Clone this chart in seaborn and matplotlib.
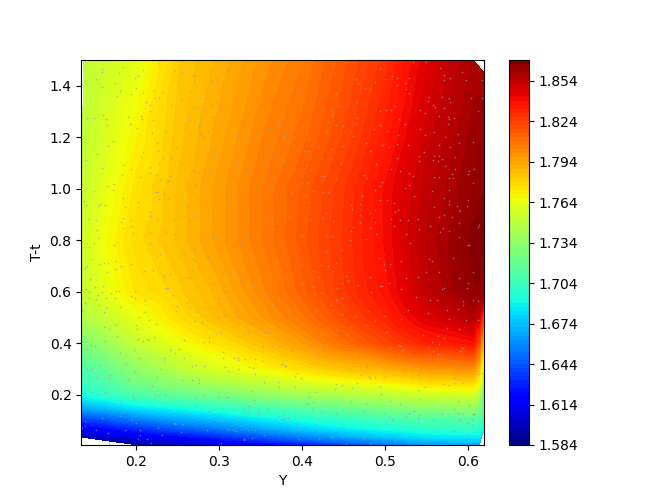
import numpy as np
import pandas as pd
import seaborn as sns
import matplotlib.pyplot as plt

# grid
y_cols = [0.134, 0.16, 0.2, 0.25, 0.3, 0.35, 0.4, 0.45, 0.5, 0.55, 0.606, 0.613, 0.619]
t_rows = [0.006, 0.036, 0.07, 0.1, 0.15, 0.2, 0.25, 0.3, 0.4, 0.5, 0.6, 0.8, 1.0, 1.2, 1.45, 1.5]
nan = float('nan')
z_rows = [
    [nan, nan, 1.590, 1.598, 1.606, 1.616, 1.628, 1.640, 1.652, 1.662, 1.666, 1.666, nan],
    [1.596, 1.602, 1.610, 1.620, 1.632, 1.643, 1.655, 1.666, 1.675, 1.683, 1.685, 1.685, nan],
    [1.615, 1.622, 1.632, 1.645, 1.655, 1.667, 1.678, 1.687, 1.694, 1.700, 1.702, 1.700, 1.690],
    [1.634, 1.640, 1.652, 1.663, 1.672, 1.683, 1.692, 1.698, 1.704, 1.708, 1.710, 1.708, 1.700],
    [1.668, 1.674, 1.684, 1.692, 1.700, 1.708, 1.714, 1.720, 1.727, 1.733, 1.735, 1.730, 1.715],
    [1.693, 1.700, 1.710, 1.718, 1.725, 1.733, 1.740, 1.745, 1.750, 1.755, 1.757, 1.745, 1.720],
    [1.703, 1.710, 1.724, 1.735, 1.745, 1.752, 1.760, 1.766, 1.771, 1.778, 1.780, 1.770, 1.735],
    [1.710, 1.718, 1.733, 1.748, 1.760, 1.768, 1.776, 1.784, 1.790, 1.797, 1.800, 1.785, 1.750],
    [1.727, 1.736, 1.752, 1.765, 1.775, 1.785, 1.797, 1.810, 1.822, 1.833, 1.838, 1.820, 1.780],
    [1.745, 1.752, 1.764, 1.776, 1.787, 1.797, 1.808, 1.821, 1.833, 1.846, 1.856, 1.850, 1.815],
    [1.752, 1.762, 1.774, 1.781, 1.790, 1.802, 1.814, 1.827, 1.838, 1.853, 1.866, 1.866, 1.860],
    [1.755, 1.766, 1.778, 1.786, 1.796, 1.806, 1.817, 1.828, 1.840, 1.855, 1.868, 1.869, 1.868],
    [1.752, 1.762, 1.775, 1.786, 1.796, 1.806, 1.816, 1.827, 1.840, 1.853, 1.864, 1.866, 1.866],
    [nan, 1.758, 1.770, 1.784, 1.793, 1.803, 1.811, 1.822, 1.835, 1.850, 1.862, 1.863, 1.863],
    [nan, 1.755, 1.763, 1.782, 1.790, 1.799, 1.807, 1.818, 1.830, 1.846, 1.859, 1.859, 1.859],
    [nan, 1.754, 1.762, 1.782, 1.789, 1.798, 1.806, 1.817, 1.829, 1.845, 1.858, nan, nan],
]
# left edge of the filled area, slightly inside the frame near the top
edge_y = [0.137, 0.137, 0.137]
edge_t = [1.5, 1.45, 1.2]
edge_z = [1.749, 1.749, 1.750]

tick_vals = [1.584, 1.614, 1.644, 1.674, 1.704, 1.734, 1.764, 1.794, 1.824, 1.854]

# sample points, upper left
pts_ul = [(.159,1.466),(.159,1.456),(.152,1.426),(.159,1.397),(.174,1.41),(.179,1.449),(.184,1.472),(.199,1.43),(.202,1.439),(.208,1.462),(.226,1.488),(.247,1.457),(.255,1.453),(.268,1.439),(.271,1.441),(.270,1.419),(.291,1.421),(.296,1.426),(.312,1.462),(.327,1.478),(.341,1.491),(.353,1.462),(.371,1.472),
(.181,1.382),(.177,1.363),(.194,1.367),(.200,1.391),(.208,1.371),(.220,1.379),(.232,1.375),(.223,1.352),(.228,1.352),(.212,1.336),(.216,1.326),(.216,1.301),(.242,1.328),(.254,1.344),(.264,1.379),(.277,1.352),(.269,1.316),(.283,1.305),(.290,1.328),(.296,1.336),(.302,1.34),(.301,1.313),
(.160,1.289),(.141,1.274),(.149,1.274),(.164,1.27),(.165,1.25),(.190,1.281),(.206,1.285),(.207,1.27),(.193,1.254),(.201,1.238),(.220,1.266),(.219,1.219),(.235,1.223),(.265,1.266),(.277,1.266),(.275,1.246),(.259,1.231),(.292,1.281),(.287,1.227),(.277,1.215),(.280,1.204),(.317,1.211),(.322,1.215),(.327,1.258),(.335,1.196),(.353,1.258),(.361,1.235),(.371,1.243),(.378,1.204),
(.172,1.188),(.166,1.165),(.153,1.137),(.139,1.114),(.225,1.18),(.226,1.149),(.208,1.145),(.206,1.126),(.248,1.164),(.232,1.122),(.242,1.122),(.228,1.102),(.185,1.094),(.159,1.082),(.194,1.078),(.217,1.086),(.255,1.102),(.294,1.153),(.294,1.122),(.323,1.114),(.322,1.086),(.331,1.172),(.358,1.153),(.354,1.106),(.368,1.129),(.372,1.098),
(.183,1.055),(.205,1.048),(.216,1.063),(.224,1.055),(.229,1.036),(.242,1.052),(.238,1.032),(.261,1.032),(.269,1.071),(.276,1.063),(.289,1.067),(.296,1.063),(.301,1.044),(.272,1.016),(.299,1.009),(.328,1.016),(.334,1.075),(.352,1.036),(.363,1.044),(.360,1.005),(.365,1.005),(.166,1.012),(.173,1.02),(.172,.997),(.220,1.016),(.149,.993),
(.224,.989),(.226,.989),(.234,.981),(.184,.965),(.238,.961),(.228,.961),(.202,.95),(.137,.954),(.140,.938),(.156,.942),(.162,.938),(.154,.934),(.187,.93),(.261,.934),(.275,.961),(.278,.938),(.287,.922),(.311,.955),(.314,.93),(.313,.915),(.323,.938),(.336,.927),(.349,.981),(.369,.962),(.293,.896),
(.143,.884),(.152,.88),(.184,.888),(.182,.872),(.194,.88),(.216,.911),(.217,.896),(.225,.884),(.246,.884),(.254,.892),(.259,.892),(.263,.88),(.269,.896),(.363,.884),(.194,.856),(.184,.848),(.153,.84),(.196,.829),(.216,.829),(.235,.833),(.247,.825),(.269,.852),(.278,.829),(.295,.837),(.294,.817),(.291,.809),(.299,.809),(.307,.798),(.317,.809),(.325,.794),(.334,.809),(.345,.806),(.355,.806),(.366,.845),(.372,.845),(.154,.809),(.149,.79),(.143,.775),(.173,.782),(.216,.79),(.27,.763)]
# upper right
pts_ur = [(.385,1.488),(.405,1.488),(.437,1.482),(.439,1.452),(.385,1.452),(.396,1.449),(.494,1.468),(.533,1.492),(.549,1.492),(.566,1.468),(.570,1.442),(.592,1.453),(.508,1.437),(.529,1.433),(.514,1.43),(.500,1.426),(.464,1.426),(.487,1.414),(.523,1.41),(.514,1.402),(.571,1.422),(.578,1.43),(.597,1.422),(.616,1.422),(.467,1.41),(.475,1.394),(.481,1.387),(.525,1.39),(.528,1.371),(.388,1.387),(.395,1.384),(.441,1.371),(.422,1.352),
(.552,1.359),(.568,1.359),(.577,1.355),(.603,1.355),(.616,1.352),(.551,1.34),(.557,1.328),(.560,1.32),(.571,1.316),(.578,1.336),(.611,1.301),(.455,1.328),(.464,1.336),(.443,1.324),(.436,1.305),(.436,1.289),(.493,1.301),(.501,1.305),(.507,1.305),(.512,1.324),(.542,1.305),(.548,1.297),(.564,1.285),(.575,1.281),(.583,1.277),(.577,1.27),(.575,1.254),
(.466,1.277),(.431,1.262),(.440,1.25),(.449,1.246),(.465,1.254),(.494,1.25),(.516,1.273),(.524,1.254),(.377,1.285),(.380,1.227),(.383,1.227),(.378,1.203),(.390,1.203),(.408,1.195),(.429,1.227),(.458,1.227),(.461,1.207),(.486,1.231),(.502,1.227),(.515,1.211),(.542,1.231),(.548,1.211),(.558,1.223),(.572,1.203),(.587,1.215),(.588,1.18),(.606,1.184),(.477,1.18),(.496,1.172),(.514,1.176),(.449,1.168),(.389,1.164),(.419,1.164),(.402,1.149),(.407,1.149),(.434,1.156),(.481,1.149),(.504,1.164),(.527,1.172),(.565,1.172),(.578,1.164),
(.547,1.145),(.540,1.129),(.540,1.11),(.559,1.129),(.564,1.129),(.557,1.114),(.563,1.11),(.568,1.118),(.584,1.125),(.514,1.121),(.424,1.118),(.435,1.118),(.411,1.121),(.379,1.106),(.404,1.094),(.447,1.102),(.489,1.098),(.572,1.09),(.584,1.078),(.607,1.078),(.601,1.071),(.599,1.059),(.507,1.078),(.518,1.071),(.529,1.063),(.411,1.075),(.533,1.051),(.559,1.047),(.564,1.047),(.580,1.059),(.577,1.043),(.581,1.043),(.422,1.051),(.426,1.051),(.441,1.039),(.474,1.055),(.478,1.043),(.605,1.024),(.400,1.024),(.496,1.028),
(.407,1.024),(.493,1.012),(.528,1.016),(.524,1.004),(.487,.997),(.576,.997),(.556,.993),(.413,.993),(.425,.989),(.431,.989),(.388,.989),(.404,.977),(.472,.973),(.535,.973),(.570,.965),(.494,.958),(.502,.958),(.577,.954),(.600,.958),(.577,.942),(.408,.95),(.459,.938),(.470,.942),(.510,.946),(.559,.93),(.586,.934),(.598,.934),(.460,.923),(.488,.919),(.482,.907),(.515,.919),(.512,.911),(.589,.919),(.590,.915),(.429,.907),(.470,.899),(.564,.891),(.570,.899),(.580,.891),(.384,.891),(.410,.88),(.424,.887),(.437,.875),(.469,.872),(.487,.872),(.507,.883),(.517,.88),(.527,.88),(.539,.883),(.589,.868),(.554,.856),(.569,.848),(.613,.86),(.611,.852),(.461,.852),(.481,.848),(.458,.837),(.489,.825),(.510,.856),(.540,.844),(.525,.825),(.566,.833),(.576,.837),(.400,.821),(.429,.821),(.436,.817),(.457,.802),(.477,.806),(.589,.813),(.530,.79),(.599,.782),(.601,.782),(.396,.767),(.447,.763)]
# lower left
pts_ll = [(.146,.729),(.141,.701),(.138,.693),(.155,.709),(.161,.713),(.166,.713),(.176,.721),(.182,.701),(.194,.709),(.165,.678),(.176,.689),(.209,.682),(.220,.686),(.225,.74),(.229,.748),(.252,.736),(.257,.752),(.267,.729),(.271,.721),(.287,.732),(.300,.732),(.314,.721),(.320,.752),(.326,.697),(.234,.662),(.241,.67),(.260,.654),(.264,.658),(.267,.682),(.305,.678),(.314,.67),(.323,.67),(.326,.662),(.357,.697),(.370,.713),(.144,.65),(.150,.619),(.160,.623),(.140,.611),(.143,.6),(.154,.588),(.159,.6),(.170,.596),(.176,.604),(.179,.604),(.194,.584),(.199,.604),(.236,.615),(.238,.615),(.244,.588),(.293,.635),(.307,.6),(.316,.604),(.319,.635),(.342,.623),(.330,.596),(.361,.592),(.143,.576),(.152,.572),(.164,.576),(.175,.576),(.199,.576),(.211,.569),(.138,.557),(.155,.549),(.164,.537),(.161,.522),(.180,.541),(.135,.529),(.249,.545),(.248,.526),(.261,.557),(.265,.541),(.273,.522),(.281,.537),(.292,.541),(.298,.557),(.298,.576),(.308,.572),(.307,.514),(.329,.522),(.340,.569),(.352,.526),(.372,.572),(.363,.553),(.211,.522),(.203,.502),(.298,.502),(.322,.502),(.215,.491),(.270,.487),(.279,.483),(.340,.483),(.224,.475),(.200,.471),(.176,.471),(.161,.463),(.167,.455),(.201,.455),(.357,.459),(.361,.452),(.370,.455),(.301,.444),(.296,.436),(.334,.444),(.329,.432),(.354,.444),(.177,.428),(.223,.424),(.288,.424),(.202,.416),(.208,.409),(.213,.416),(.215,.413),(.162,.409),(.257,.413),(.281,.405),(.288,.405),(.146,.393),(.150,.389),(.140,.377),(.353,.389),(.364,.389),(.372,.389),(.197,.374),(.241,.374),(.252,.377),(.247,.362),(.180,.362),(.304,.366),(.305,.342),(.203,.342),(.234,.342),(.234,.331),(.258,.342),(.318,.342),(.322,.342),(.322,.335),(.331,.338),(.343,.338),(.352,.331),(.188,.319),(.156,.315),(.267,.311),(.272,.315),(.282,.311),(.307,.307),(.336,.307),(.341,.303),(.376,.319),(.380,.311),(.141,.3),(.144,.296),(.147,.303),(.230,.3),(.311,.292),(.322,.3),(.199,.288),(.343,.28),(.152,.264),(.168,.276),(.167,.264),(.225,.268),(.190,.257),(.255,.257),(.267,.257),(.276,.257),(.276,.245),(.354,.249),(.371,.249),(.372,.229),(.219,.233),(.339,.214),(.147,.21),(.164,.21),(.154,.198),(.195,.194),(.197,.19),(.197,.182),(.223,.202),(.226,.198),(.223,.19),(.235,.198),(.272,.186),(.282,.198),(.298,.19),(.308,.186),(.311,.19),(.342,.179),(.177,.179),(.182,.179),(.141,.163),(.147,.171),(.168,.151),(.271,.159),(.304,.143),(.334,.155),(.328,.143),(.287,.136),(.358,.143),(.155,.139),(.159,.143),(.213,.132),(.185,.132),(.260,.124),(.348,.136),(.335,.132),(.181,.116),(.159,.108),(.195,.104),(.138,.097),(.200,.089),(.245,.089),(.247,.085),(.255,.085),(.296,.101),(.301,.105),(.322,.108),(.329,.108),(.347,.124),(.372,.116),(.378,.105),(.383,.108),(.135,.073),(.138,.077),(.152,.065),(.187,.062),(.205,.065),(.226,.073),(.285,.065),(.311,.069),(.317,.065),(.320,.058),(.326,.077),(.335,.065),(.343,.062),(.254,.054),(.166,.05),(.205,.042),(.231,.042),(.202,.03),(.213,.03),(.330,.03),(.330,.023),(.354,.042),(.339,.034),(.167,.011),(.218,.011),(.302,.011)]
# lower right
pts_lr = [(.429,.756),(.492,.732),(.519,.721),(.552,.729),(.556,.721),(.581,.732),(.498,.709),(.506,.709),(.499,.686),(.549,.678),(.565,.678),(.606,.678),(.400,.705),(.422,.705),(.440,.713),(.431,.701),(.437,.682),(.413,.682),(.420,.658),(.452,.662),(.379,.658),(.481,.658),(.525,.654),(.539,.658),(.588,.654),(.455,.643),(.448,.635),(.399,.635),(.413,.619),(.467,.627),(.493,.623),(.496,.623),(.504,.635),(.599,.635),(.519,.611),(.568,.611),(.571,.615),(.598,.615),(.442,.615),(.414,.592),(.423,.596),(.483,.6),(.537,.58),(.377,.569),(.440,.569),(.448,.576),(.554,.569),(.562,.569),(.593,.565),(.606,.569),(.612,.565),(.435,.549),(.594,.549),(.392,.534),(.383,.526),(.436,.529),(.480,.526),(.527,.529),(.574,.529),(.587,.534),(.416,.526),(.551,.518),(.448,.514),(.408,.506),(.464,.506),(.500,.506),(.519,.494),(.576,.494),(.597,.491),(.611,.491),(.487,.487),(.478,.471),(.459,.463),(.574,.459),(.589,.455),(.395,.452),(.412,.455),(.440,.452),(.502,.444),(.545,.432),(.454,.432),(.563,.428),(.571,.42),(.402,.424),(.389,.413),(.418,.416),(.556,.405),(.430,.397),(.463,.393),(.515,.393),(.517,.389),(.551,.385),(.565,.397),(.412,.385),(.423,.381),(.425,.374),(.506,.381),(.592,.381),(.388,.377),(.521,.374),(.557,.37),(.590,.37),(.419,.358),(.516,.358),(.563,.358),(.480,.346),(.554,.342),(.562,.342),(.577,.335),(.489,.323),(.478,.311),(.590,.319),(.376,.319),(.379,.311),(.599,.307),(.562,.307),(.559,.3),(.570,.288),(.394,.284),(.594,.284),(.611,.28),(.391,.272),(.398,.264),(.471,.276),(.480,.272),(.482,.264),(.487,.268),(.500,.268),(.539,.276),(.583,.264),(.616,.284),(.466,.245),(.440,.241),(.448,.237),(.493,.233),(.569,.241),(.577,.237),(.582,.245),(.594,.245),(.391,.229),(.439,.222),(.460,.225),(.548,.229),(.541,.218),(.416,.21),(.495,.202),(.408,.19),(.541,.182),(.405,.167),(.413,.171),(.458,.175),(.506,.175),(.587,.175),(.477,.163),(.517,.163),(.601,.159),(.412,.143),(.474,.139),(.534,.139),(.583,.143),(.391,.128),(.424,.132),(.440,.128),(.500,.128),(.528,.124),(.525,.116),(.541,.12),(.568,.124),(.587,.128),(.594,.124),(.605,.124),(.607,.124),(.378,.12),(.375,.105),(.378,.105),(.383,.108),(.419,.105),(.504,.116),(.508,.101),(.539,.108),(.557,.105),(.590,.101),(.604,.105),(.393,.085),(.447,.085),(.600,.089),(.604,.081),(.396,.062),(.467,.058),(.492,.05),(.582,.058),(.617,.054),(.600,.046),(.434,.038),(.499,.042),(.420,.03),(.396,.03),(.474,.034),(.511,.023),(.547,.03),(.453,.007),(.481,.011),(.583,.007)]

# long table for the surface
df = pd.DataFrame(z_rows, index=t_rows, columns=y_cols)
df = df.stack().rename_axis(['t', 'y']).reset_index(name='z')
df = pd.concat([df, pd.DataFrame({'y': edge_y, 't': edge_t, 'z': edge_z})], ignore_index=True)
pts = pd.DataFrame(pts_ul + pts_ur + pts_ll + pts_lr, columns=['y', 't'])

fig, ax = plt.subplots(figsize=(6.5, 5), dpi=100)
levels = np.linspace(1.584, 1.8695, 96)
cs = ax.tricontourf(df['y'], df['t'], df['z'], levels=levels, cmap='jet')
sns.scatterplot(data=pts, x='y', y='t', marker='+', s=4, color='#a0a0a0', linewidth=0.45, alpha=0.6, legend=False, ax=ax)

cbar = fig.colorbar(cs, ax=ax, ticks=tick_vals)
cbar.ax.set_yticklabels(['%.3f' % v for v in tick_vals])

ax.set_xlim(0.1338, 0.619)
ax.set_ylim(0.005, 1.501)
ax.set_xlabel('Y')
ax.set_ylabel('T-t')
plt.savefig('out.png', dpi=100)
